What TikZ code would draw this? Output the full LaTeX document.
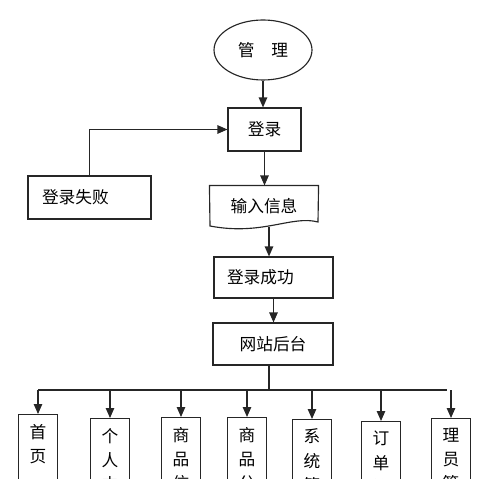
\documentclass[tikz,border=0pt]{standalone}
\usepackage{fontspec}
\usepackage{tikz}
\usetikzlibrary{shapes.geometric, arrows.meta, positioning, calc}
\newfontfamily\cjk{Noto Sans CJK SC}
\tikzset{
  flowbox/.style={draw=black!85, line width=0.65pt, font=\fontsize{9.5}{13}\selectfont\cjk, inner sep=0pt},
  colbox/.style={draw=black!85, line width=0.65pt, anchor=north, font=\fontsize{9.5}{13.8}\selectfont\cjk,
    align=center, minimum width=0.78cm, inner xsep=0pt, inner ysep=0.19cm},
  flowarrow/.style={draw=black!85, line width=0.65pt, -{Triangle[length=0.2cm, width=0.17cm]}}
}

\begin{document}
\begin{tikzpicture}[x=0.02cm, y=-0.02cm]
  % Page frame
  \useasboundingbox (0,0) rectangle (500,479);
  \clip (0,0) rectangle (500,479);

  % Top flow
  \node[flowbox, ellipse, minimum width=1.96cm, minimum height=1.2cm] (mgr) at (263,50) {管\quad 理};
  \node[flowbox, minimum width=1.46cm, minimum height=0.86cm] (login) at (264.5,129.5) {登录};
  \node[flowbox, minimum width=2.46cm, minimum height=0.86cm, text width=1.9cm] (fail) at (89.5,197.5) {登录失败};
  \node[flowbox, draw=none, minimum width=2.16cm, minimum height=0.8cm] (info) at (264,206) {输入信息};
  \node[flowbox, minimum width=2.38cm, minimum height=0.82cm, text width=1.86cm] (succ) at (273.5,277.5) {登录成功};
  \node[flowbox, minimum width=2.4cm, minimum height=0.84cm] (site) at (273,344) {网站后台};

  % Document shape round the info node
  \draw[draw=black!85, line width=0.65pt] (info.north west) -- (info.north east) -- (318,222)
    .. controls (292,215) and (262,236) .. (210,226) -- cycle;

  % Connectors
  \draw[flowarrow] (mgr.south) -- (mgr.south |- login.north);
  \draw[flowarrow] (fail.north) |- (login.west);
  \draw[flowarrow] (login.south) -- (login.south |- info.north);
  \draw[flowarrow] ([xshift=0.1cm]info.south) -- ([xshift=0.1cm]info.south |- succ.north);
  \draw[flowarrow] (succ.south) -- (succ.south |- site.north);

  % Module row
  \coordinate (bus) at (269,390);
  \draw[draw=black!85, line width=0.65pt] (269,365) -- (bus);
  \draw[draw=black!85, line width=0.65pt] (38,390) -- (447,390);

  \foreach \x/\top/\name/\label in {38/414/home/首\\页\\~, 110/418/user/个\\人\\中,
      181/417/goods/商\\品\\信, 247/417/kind/商\\品\\分, 312/419/sys/系\\统\\管,
      381/421/order/订\\单\\管, 451/418/admin/理\\员\\管} {
    \node[colbox] (\name) at (\x,\top) {\label};
    \draw[flowarrow] (\name.north |- bus) -- (\name.north);
  }
\end{tikzpicture}
\end{document}
